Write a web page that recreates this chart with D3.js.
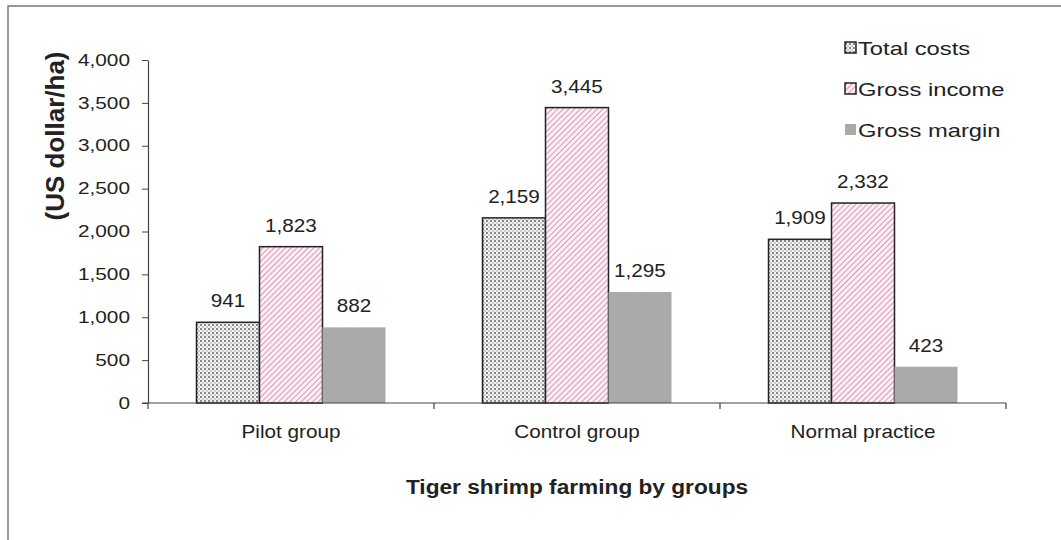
<!DOCTYPE html>
<html>
<head>
<meta charset="utf-8">
<script src="https://cdn.jsdelivr.net/npm/d3@7"></script>
<style>
  body { margin: 0; background: #fff; }
  svg { display: block; font-family: "Liberation Sans", Arial, sans-serif; }
</style>
</head>
<body>
<svg></svg>
<script>
// Tiger shrimp farming costs / income chart (D3 v7)

const groups = ["Pilot group", "Control group", "Normal practice"];
const series = ["Total costs", "Gross income", "Gross margin"];
const totalCosts = [941, 2159, 1909];
const grossIncome = [1823, 3445, 2332];
const grossMargin = [882, 1295, 423];
const yTicks = [0, 500, 1000, 1500, 2000, 2500, 3000, 3500, 4000];

const width = 1061;
const height = 540;

const svg = d3.select("svg").attr("width", width).attr("height", height);

// The source image is a bit wider than its fonts; stretch text horizontally
function stretch(sel, fx, fy, sx) {
  sel
    .attr("x", 0)
    .attr("y", 0)
    .attr("transform", (d, i) => `translate(${fx(d, i)},${fy(d, i)}) scale(${sx},1)`);
}

// Outer frame (runs off the right and bottom edges like the source image)
svg.append("rect")
  .attr("x", 8).attr("y", 6)
  .attr("width", 1100).attr("height", 600)
  .attr("fill", "#fff")
  .attr("stroke", "#777")
  .attr("stroke-width", 1.5);

// ---- Patterns ----
const defs = svg.append("defs");

const dots = defs.append("pattern")
  .attr("id", "dots")
  .attr("patternUnits", "userSpaceOnUse")
  .attr("width", 4).attr("height", 4);
dots.append("rect").attr("width", 4).attr("height", 4).attr("fill", "#f2f2f2");
dots.append("circle").attr("cx", 1).attr("cy", 1).attr("r", 0.9).attr("fill", "#555");
dots.append("circle").attr("cx", 3).attr("cy", 3).attr("r", 0.7).attr("fill", "#888");

const stripes = defs.append("pattern")
  .attr("id", "stripes")
  .attr("patternUnits", "userSpaceOnUse")
  .attr("width", 4).attr("height", 4)
  .attr("patternTransform", "rotate(45)");
stripes.append("rect").attr("width", 4).attr("height", 4).attr("fill", "#fbeef4");
stripes.append("line")
  .attr("x1", 0).attr("y1", 0).attr("x2", 0).attr("y2", 4)
  .attr("stroke", "#d58aac").attr("stroke-width", 1.7);

const fills = ["url(#dots)", "url(#stripes)", "#aaaaaa"];
const strokes = ["#222", "#222", "none"];

// ---- Scales ----
const margin = { left: 148, right: 55, top: 60, bottom: 137 };
const x = d3.scaleBand()
  .domain(groups)
  .range([margin.left, width - margin.right])
  .paddingInner(0)
  .paddingOuter(0);

const x1 = d3.scaleBand()
  .domain(series)
  .range([0, x.bandwidth()])
  .paddingInner(0)
  .paddingOuter(0.77);

const y = d3.scaleLinear().domain([0, 4000]).range([height - margin.bottom, margin.top]);

const rows = groups.map((g, i) => ({
  group: g,
  values: [totalCosts[i], grossIncome[i], grossMargin[i]],
}));

// ---- Bars ----
const groupG = svg.append("g")
  .selectAll("g")
  .data(rows)
  .join("g")
  .attr("transform", (d) => `translate(${x(d.group)},0)`);

const fmt = d3.format(",");

groupG.selectAll("rect")
  .data((d) => d.values.map((v, j) => ({ key: series[j], value: v, j })))
  .join("rect")
  .attr("x", (d) => x1(d.key))
  .attr("y", (d) => y(d.value))
  .attr("width", x1.bandwidth())
  .attr("height", (d) => y(0) - y(d.value))
  .attr("fill", (d) => fills[d.j])
  .attr("stroke", (d) => strokes[d.j])
  .attr("stroke-width", 1.5);

groupG.selectAll("text")
  .data((d) => d.values.map((v, j) => ({ key: series[j], value: v, j })))
  .join("text")
  .attr("text-anchor", "middle")
  .attr("font-size", 18)
  .attr("fill", "#222")
  .text((d) => fmt(d.value))
  .call(stretch, (d) => x1(d.key) + x1.bandwidth() / 2, (d) => y(d.value) - 15, 1.15);

// ---- Axes ----
const yAxis = svg.append("g")
  .attr("transform", `translate(${margin.left},0)`)
  .call(d3.axisLeft(y).tickValues(yTicks).tickFormat(fmt).tickSize(6).tickSizeOuter(0));
yAxis.select(".domain").attr("stroke", "#444").attr("stroke-width", 1.2);
yAxis.selectAll(".tick line").attr("stroke", "#444");
yAxis.selectAll(".tick text")
  .attr("font-size", 16)
  .attr("fill", "#222")
  .attr("font-family", "Liberation Sans, Arial, sans-serif")
  .attr("x", 0)
  .attr("transform", "translate(-18,0) scale(1.3,1)");

// x axis line with boundary ticks (Excel style)
const xAxisG = svg.append("g");
xAxisG.append("line")
  .attr("x1", margin.left - 6).attr("x2", width - margin.right)
  .attr("y1", y(0)).attr("y2", y(0))
  .attr("stroke", "#444").attr("stroke-width", 1.2);
const bounds = groups.map((g) => x(g)).concat([x(groups[groups.length - 1]) + x.bandwidth()]);
xAxisG.selectAll("line.bt")
  .data(bounds)
  .join("line")
  .attr("class", "bt")
  .attr("x1", (d) => d).attr("x2", (d) => d)
  .attr("y1", y(0)).attr("y2", y(0) + 6)
  .attr("stroke", "#444").attr("stroke-width", 1.2);
xAxisG.selectAll("text")
  .data(groups)
  .join("text")
  .attr("text-anchor", "middle")
  .attr("font-size", 18)
  .attr("fill", "#222")
  .text((d) => d)
  .call(stretch, (d) => x(d) + x.bandwidth() / 2, () => y(0) + 35, 1.15);

// ---- Titles ----
svg.append("text")
  .attr("text-anchor", "middle")
  .attr("font-size", 21)
  .attr("font-weight", "bold")
  .attr("fill", "#222")
  .text("Tiger shrimp farming by groups")
  .call(stretch, () => (margin.left + width - margin.right) / 2, () => 494, 1.08);

svg.append("text")
  .attr("transform", "translate(64,136) rotate(-90)")
  .attr("text-anchor", "middle")
  .attr("font-size", 26)
  .attr("font-weight", "bold")
  .attr("fill", "#222")
  .text("(US dollar/ha)");

// ---- Legend ----
const legend = svg.append("g")
  .selectAll("g")
  .data(series)
  .join("g")
  .attr("transform", (d, i) => `translate(845,${55 + i * 41})`);

legend.append("rect")
  .attr("x", 0).attr("y", -13)
  .attr("width", 11).attr("height", 11)
  .attr("fill", (d, i) => fills[i])
  .attr("stroke", (d, i) => strokes[i])
  .attr("stroke-width", 1.5);

legend.append("text")
  .attr("font-size", 19)
  .attr("fill", "#222")
  .text((d) => d)
  .call(stretch, () => 13, () => 0, 1.25);
</script>
</body>
</html>
